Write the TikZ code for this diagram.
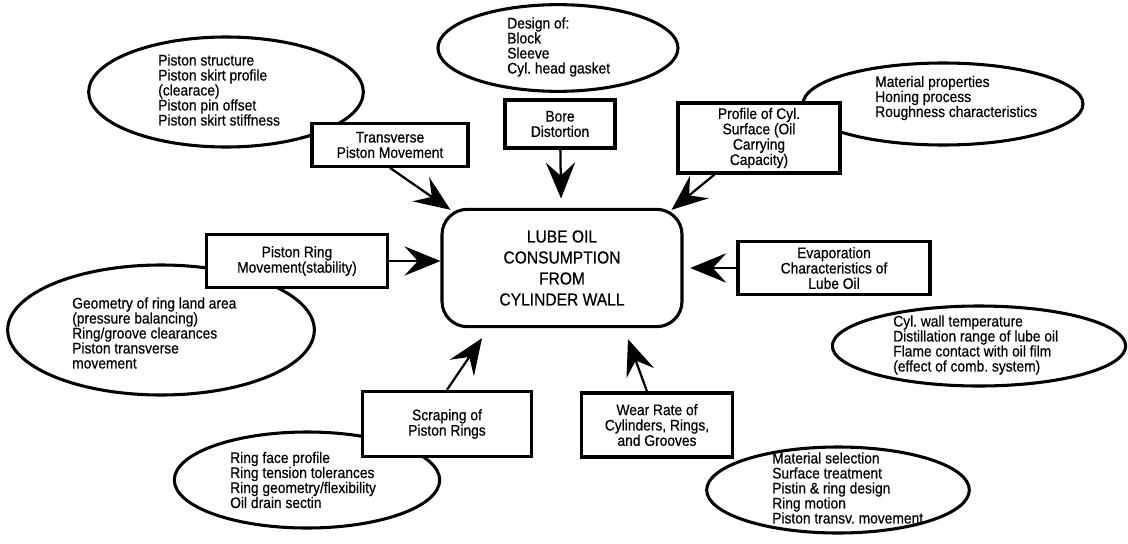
\documentclass[tikz,border=0pt]{standalone}
\usepackage{fontspec}
\setmainfont{Liberation Sans}[FakeStretch=0.9, FakeBold=0.5]
\usetikzlibrary{arrows.meta, shapes.geometric}

\begin{document}
\begin{tikzpicture}[x=0.75pt, y=-0.75pt,
    oval/.style={draw, ellipse, line width=2.3pt, inner sep=0pt},
    list/.style={align=left, font=\fontsize{11.5}{11.25}\selectfont, inner sep=0pt},
    factor/.style={draw, rectangle, line width=2.3pt, fill=white, align=center, font=\fontsize{11.5}{11.5}\selectfont, inner sep=2pt},
    feed/.style={line width=1.7pt, -{Stealth[length=27pt, width=22pt, inset=10pt]}}]
    \useasboundingbox (0,0) rectangle (1128,543);

    % Ellipses
    \node[oval, minimum width=206pt, minimum height=82.5pt] (pistE) at (226,92) {};
    \node[oval, minimum width=180pt, minimum height=65pt] (desE) at (558,48) {};
    \node[oval, minimum width=210pt, minimum height=61.5pt] (matE) at (943,104) {};
    \node[oval, minimum width=230pt, minimum height=97.5pt] (geomE) at (161,330) {};
    \node[oval, minimum width=220pt, minimum height=60pt] (wallE) at (979,346) {};
    \node[oval, minimum width=199pt, minimum height=72pt] (drainE) at (307,480) {};
    \node[oval, minimum width=197pt, minimum height=64.5pt] (matsE) at (838,490) {};

    % Lists
    \node[list, anchor=west] (pistL) at (158,90) {Piston structure\\Piston skirt profile\\(clearace)\\Piston pin offset\\Piston skirt stiffness};
    \node[list, anchor=west] (desL) at (507,47) {Design of:\\Block\\Sleeve\\Cyl.\ head gasket};
    \node[list, anchor=west] (matL) at (875,98) {Material properties\\Honing process\\Roughness characteristics};
    \node[list, anchor=west] (geomL) at (72,333) {Geometry of ring land area\\(pressure balancing)\\Ring/groove clearances\\Piston transverse\\movement};
    \node[list, anchor=west] (wallL) at (893,345) {Cyl.\ wall temperature\\Distillation range of lube oil\\Flame contact with oil film\\(effect of comb.\ system)};
    \node[list, anchor=west] (drainL) at (230,480) {Ring face profile\\Ring tension tolerances\\Ring geometry/flexibility\\Oil drain sectin};
    \node[list, anchor=west] (matsL) at (772,488) {Material selection\\Surface treatment\\Pistin \& ring design\\Ring motion\\Piston transv.\ movement};

    % Factors
    \node[factor, minimum width=117pt, minimum height=32pt] (trans) at (390,145) {Transverse\\Piston Movement};
    \node[factor, minimum width=82.5pt, minimum height=36pt] (bore) at (560,124) {Bore\\Distortion};
    \node[factor, minimum width=121.5pt, minimum height=52.5pt] (prof) at (759,138) {Profile of Cyl.\\Surface (Oil\\Carrying\\Capacity)};
    \node[factor, minimum width=136pt, minimum height=40pt] (ring) at (297,261) {Piston Ring\\Movement(stability)};
    \node[factor, minimum width=144pt, minimum height=40pt] (evap) at (834,268) {Evaporation\\Characteristics of\\Lube Oil};
    \node[factor, minimum width=127pt, minimum height=49pt] (scrap) at (447,424) {Scraping of\\Piston Rings};
    \node[factor, minimum width=113pt, minimum height=48pt] (wear) at (657,425) {Wear Rate of\\Cylinders, Rings,\\and Grooves};

    % Centre
    \node[draw, rounded corners=19pt, line width=2.3pt, minimum width=180pt, minimum height=88pt, align=center, font=\fontsize{13}{15.75}\selectfont] (lube) at (562,268) {LUBE OIL\\CONSUMPTION\\FROM\\CYLINDER WALL};

    % Arrows
    \draw[feed] (trans.south) -- ([shift={(10,2)}]lube.north west);
    \draw[feed, shorten >=7pt] (bore) -- (lube);
    \draw[feed] (prof) -- ([shift={(-12,2)}]lube.north east);
    \draw[feed] (ring) -- (ring -| lube.west);
    \draw[feed, shorten >=5pt] (evap) -- (evap -| lube.east);
    \draw[feed] (scrap.north) -- ([shift={(-80,10)}]lube.south);
    \draw[feed] ([shift={(-10,0)}]wear.north) -- ([shift={(66,11)}]lube.south);
\end{tikzpicture}
\end{document}
